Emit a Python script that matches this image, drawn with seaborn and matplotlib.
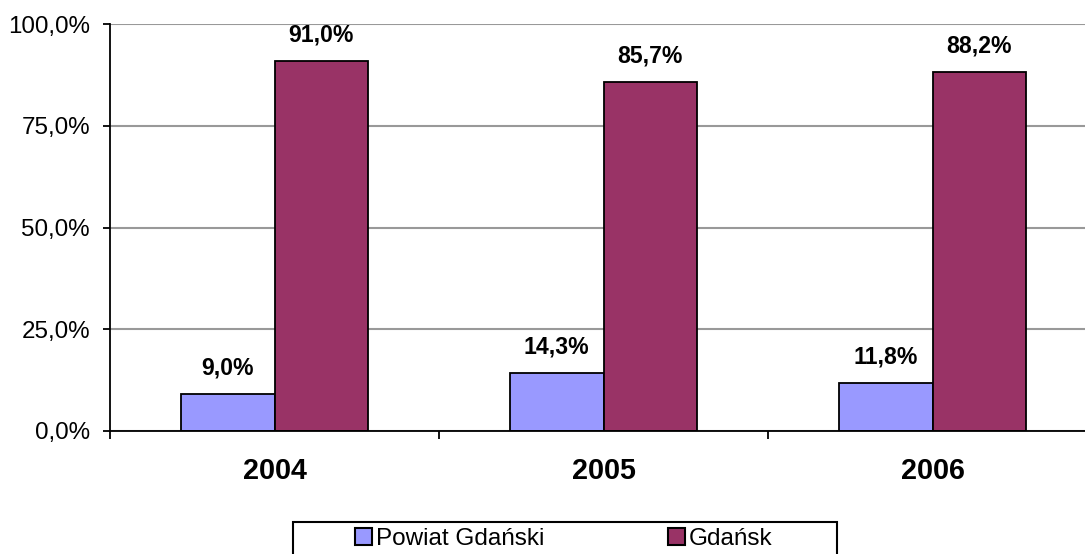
import pandas as pd
import matplotlib
matplotlib.use("Agg")
import matplotlib.pyplot as plt
import seaborn as sns
from matplotlib.patches import Rectangle
from matplotlib.ticker import FixedLocator, FuncFormatter

sns.set_style("white")
plt.rcParams['font.family'] = ['Liberation Sans', 'DejaVu Sans']
plt.rcParams['text.color'] = 'black'
plt.rcParams['xtick.color'] = 'black'
plt.rcParams['ytick.color'] = 'black'
plt.rcParams['xtick.labelcolor'] = 'black'
plt.rcParams['ytick.labelcolor'] = 'black'

# data
years = ["2004", "2005", "2006"]
powiat = [9.0, 14.3, 11.8]
gdansk = [91.0, 85.7, 88.2]
series = ["Powiat Gdański", "Gdańsk"]
colors = ["#9999FF", "#993366"]
yticks = [0, 25, 50, 75, 100]

df = pd.DataFrame({
    "year": years * 2,
    "value": powiat + gdansk,
    "series": [series[0]] * 3 + [series[1]] * 3,
})

def pl(v):
    return f"{v:.1f}".replace(".", ",") + "%"

fig = plt.figure(figsize=(10.85, 5.54), dpi=100)
ax = fig.add_axes([110 / 1085, 1 - 431 / 554, 987 / 1085, 407 / 554])

sns.barplot(data=df, x="year", y="value", hue="series", palette=colors,
            width=0.568, edgecolor="black", linewidth=1.3, saturation=1,
            ax=ax)

for cont in ax.containers:
    ax.bar_label(cont, labels=[pl(b.get_height()) for b in cont],
                 padding=10.5, fontsize=16.6, fontweight="bold", color="black")

ax.set_ylim(0, 100)
ax.set_xlim(-0.5, 2.5)
ax.set_yticks(yticks)
ax.yaxis.set_major_formatter(FuncFormatter(lambda v, p: pl(v)))
ax.tick_params(axis="y", length=5, width=1.3, pad=9.4, labelsize=17.4,
               left=True, color="black")
ax.tick_params(axis="x", which="major", length=0, pad=19, labelsize=20.7)
for t in ax.get_xticklabels():
    t.set_fontweight("bold")
ax.xaxis.set_minor_locator(FixedLocator([-0.5, 0.5, 1.5, 2.5]))
ax.tick_params(axis="x", which="minor", length=5.8, width=1.3,
               bottom=True, color="black")
ax.set_xlabel("")
ax.set_ylabel("")

ax.yaxis.grid(True, color="#999999", linewidth=1.5)
ax.set_axisbelow(True)
for s in ["top", "right"]:
    ax.spines[s].set_visible(False)
for s in ["left", "bottom"]:
    ax.spines[s].set_color("black")
    ax.spines[s].set_linewidth(1.3)

handles, labels = ax.get_legend_handles_labels()
ax.get_legend().remove()
leg = fig.legend(handles, labels, loc="upper left",
                 bbox_to_anchor=(355 / 1085, 1 - 528 / 554), ncol=2,
                 frameon=False, fontsize=17.5, borderpad=0, borderaxespad=0,
                 handlelength=0.7, handleheight=0.7, handletextpad=0.16,
                 columnspacing=5.1)
for h in leg.legend_handles:
    h.set_edgecolor("black")
    h.set_linewidth(1.5)

fig.patches.append(Rectangle((293 / 1085, -0.1), (837 - 293) / 1085,
                             0.1 + 1 - 522 / 554, transform=fig.transFigure,
                             fill=False, edgecolor="black", linewidth=1.5))

fig.savefig("out.png", dpi=100)
